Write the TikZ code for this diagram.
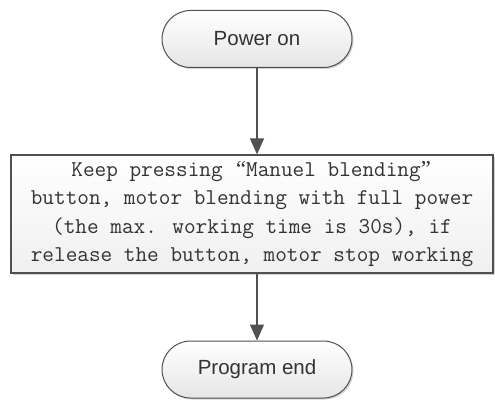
\documentclass[tikz,border=0pt]{standalone}
\usepackage{fontspec}
\setmainfont{Liberation Sans}
\newfontfamily\qfont{Liberation Serif}
\newcommand{\myopenq}{\makebox[0.525em][r]{\qfont “}}
\newcommand{\mycloseq}{\makebox[0.525em][l]{\qfont ”}}
\usetikzlibrary{shapes.misc,arrows.meta,shadows}
\definecolor{edgegray}{HTML}{505050}
\definecolor{txtgray}{HTML}{333333}
\tikzset{
  terminal/.style={rounded rectangle, draw=edgegray, line width=1pt,
    top color=white, bottom color=black!10,
    drop shadow={shadow xshift=1.5pt, shadow yshift=-1.5pt, opacity=0.35},
    minimum width=190pt, minimum height=57pt, inner sep=0pt,
    font=\fontsize{20.5}{24}\selectfont, text=txtgray},
  procbox/.style={rectangle, draw=edgegray, line width=1.2pt,
    top color=white, bottom color=black!6,
    drop shadow={shadow xshift=2pt, shadow yshift=-2pt, opacity=0.35},
    minimum width=482pt, minimum height=118pt, inner sep=0pt, align=center,
    font=\ttfamily\fontsize{22.6}{28.5}\selectfont, text=txtgray},
  flow/.style={draw=edgegray, line width=1.2pt,
    -{Triangle[length=16pt,width=14pt]}}
}
\begin{document}
\begin{tikzpicture}[x=1pt,y=1pt]
\useasboundingbox (0,0) rectangle (495,399);
\node[terminal] (start) at (257,360) {Power on};
\node[procbox] (proc) at (252,185) {Keep pressing \myopenq Manuel blending\mycloseq\\
button, motor blending with full power\\
(the max. working time is 30s), if\\
release the button, motor stop working};
\node[terminal] (stop) at (257,29.5) {Program end};
\draw[flow] (start.south) -- (start.south |- proc.north);
\draw[flow] (proc.south -| stop.north) -- (stop.north);
\end{tikzpicture}
\end{document}
